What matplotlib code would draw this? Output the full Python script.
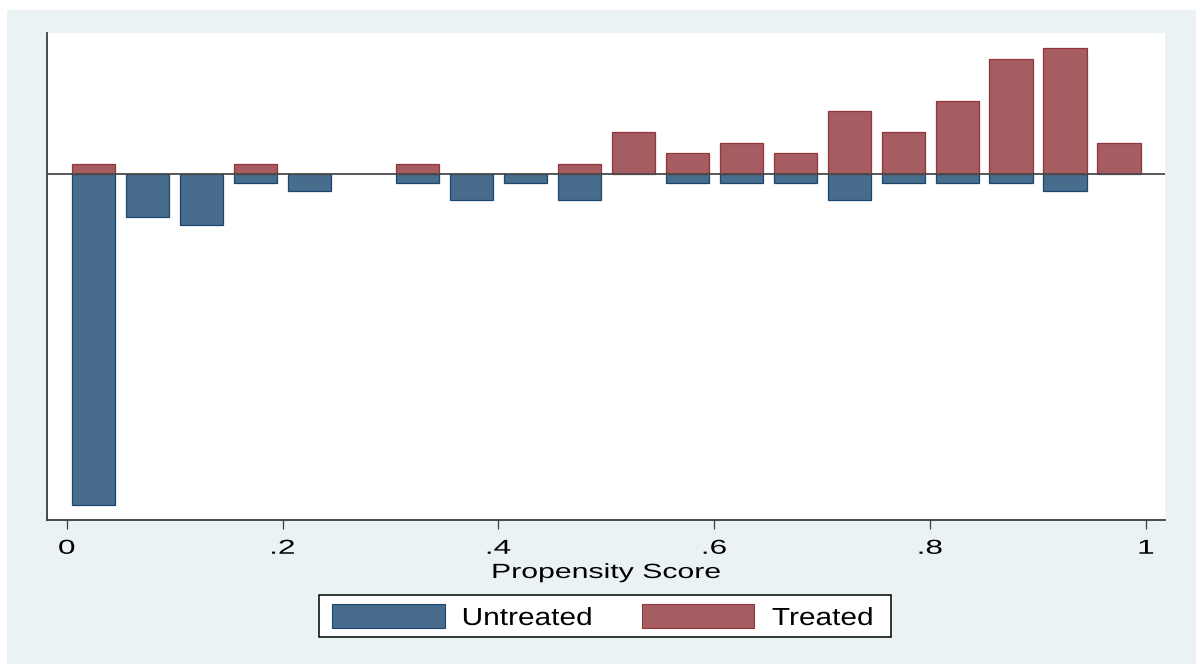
import numpy as np
import matplotlib
matplotlib.use("Agg")
import matplotlib.pyplot as plt
from matplotlib.patches import Rectangle
from matplotlib.patheffects import AbstractPathEffect
from matplotlib.transforms import Affine2D
from matplotlib.path import Path

# ---------------- data ----------------
bin_edges = [0.00, 0.05, 0.10, 0.15, 0.20, 0.25, 0.30, 0.35, 0.40, 0.45, 0.50,
             0.55, 0.60, 0.65, 0.70, 0.75, 0.80, 0.85, 0.90, 0.95, 1.00]
untreated_counts = [39, 5, 6, 1, 2, 0, 1, 3, 1, 3, 0, 1, 1, 1, 3, 1, 1, 1, 2, 0]
treated_counts = [1, 0, 0, 1, 0, 0, 1, 0, 0, 1, 4, 2, 3, 2, 6, 4, 7, 11, 12, 3]
xtick_values = [0, 0.2, 0.4, 0.6, 0.8, 1.0]
xtick_labels = ["0", ".2", ".4", ".6", ".8", "1"]
series_labels = ["Untreated", "Treated"]
x_title = "Propensity Score"

# ---------------- styling ----------------
W, H = 1196, 664
BG = "#EAF2F3"
UNT_FILL, UNT_EDGE = "#486C8C", "#1A476F"
TRT_FILL, TRT_EDGE = "#A65D62", "#90353B"
AXIS_COL = "#3c3c3c"
plt.rcParams["font.family"] = ["Liberation Sans", "DejaVu Sans"]


class HStretch(AbstractPathEffect):
    """Stretch text glyphs horizontally (the reference has wide lettering)."""

    def __init__(self, sx, anchor="center"):
        super().__init__((0.0, 0.0))
        self.sx = sx
        self.anchor = anchor

    def draw_path(self, renderer, gc, tpath, affine, rgbFace=None):
        v = tpath.vertices
        if tpath.codes is not None:
            v = v[np.asarray(tpath.codes) != Path.CLOSEPOLY]
        if len(v):
            x0, x1 = v[:, 0].min(), v[:, 0].max()
            a = (x0 + x1) / 2 if self.anchor == "center" else x0
        else:
            a = 0.0
        t = Affine2D().translate(-a, 0).scale(self.sx, 1).translate(a, 0) + affine
        renderer.draw_path(gc, tpath, t, rgbFace)


fig = plt.figure(figsize=(W / 100, H / 100), dpi=100, facecolor="white")
# light Stata-like background panel (white strip on top and left)
fig.patches.append(Rectangle((7 / W, 0), 1 - 7 / W, 1 - 10 / H, transform=fig.transFigure,
                             facecolor=BG, edgecolor="none", zorder=-10))

ax = fig.add_axes([47 / W, 1 - 520 / H, (1165 - 47) / W, (520 - 33) / H])
ax.set_facecolor("white")

edges = np.array(bin_edges)
lefts = edges[:-1]
bw = np.diff(edges)
centers = lefts + bw / 2
unt = np.array(untreated_counts, dtype=float)
trt = np.array(treated_counts, dtype=float)
unt_d = unt / (unt.sum() * bw)
trt_d = trt / (trt.sum() * bw)

mu = unt > 0
mt = trt > 0
ax.bar(centers[mu], -unt_d[mu], width=0.04, color=UNT_FILL, edgecolor=UNT_EDGE,
       linewidth=0.9, label=series_labels[0], zorder=2)
ax.bar(centers[mt], trt_d[mt], width=0.04, color=TRT_FILL, edgecolor=TRT_EDGE,
       linewidth=0.9, label=series_labels[1], zorder=2)
ax.axhline(0, color="#4a4a4a", linewidth=1.3, zorder=3)

ax.set_xlim(-0.01825, 1.01761)
ax.set_ylim(-11.334, 4.633)

for s in ["top", "right"]:
    ax.spines[s].set_visible(False)
for s in ["left", "bottom"]:
    ax.spines[s].set_color(AXIS_COL)
    ax.spines[s].set_linewidth(1.3)
ax.set_yticks([])
ax.set_xticks(xtick_values)
ax.set_xticklabels(xtick_labels, fontsize=14.5)
ax.tick_params(axis="x", direction="out", length=6.5, width=0.9, color=AXIS_COL,
               pad=7.0, labelcolor="black")
for t in ax.get_xticklabels():
    t.set_path_effects([HStretch(1.57, "center")])

ax.set_xlabel(x_title, fontsize=14.8)
ax.xaxis.label.set_va("baseline")
ax.xaxis.set_label_coords(0.5, -(578 - 520) / (520 - 33))
ax.xaxis.label.set_path_effects([HStretch(1.47, "center")])

# ---------------- legend (drawn as box + swatches + labels) ----------------
def fx(px):
    return px / W


def fy(py):
    return 1 - py / H


fig.patches.append(Rectangle((fx(319), fy(637)), fx(891) - fx(319), fy(595) - fy(637),
                             transform=fig.transFigure, facecolor="white",
                             edgecolor="black", linewidth=1.1, zorder=5))
fig.patches.append(Rectangle((fx(332), fy(628)), fx(445) - fx(332), fy(604) - fy(628),
                             transform=fig.transFigure, facecolor=UNT_FILL,
                             edgecolor=UNT_EDGE, linewidth=0.8, zorder=6))
fig.patches.append(Rectangle((fx(642), fy(628)), fx(754) - fx(642), fy(604) - fy(628),
                             transform=fig.transFigure, facecolor=TRT_FILL,
                             edgecolor=TRT_EDGE, linewidth=0.8, zorder=6))
fig.text(fx(462), fy(625), series_labels[0], fontsize=17.8, ha="left", va="baseline",
         zorder=7, path_effects=[HStretch(1.207, "left")])
fig.text(fx(772), fy(625), series_labels[1], fontsize=17.8, ha="left", va="baseline",
         zorder=7, path_effects=[HStretch(1.207, "left")])

fig.savefig("out.png", dpi=100, facecolor=fig.get_facecolor())
